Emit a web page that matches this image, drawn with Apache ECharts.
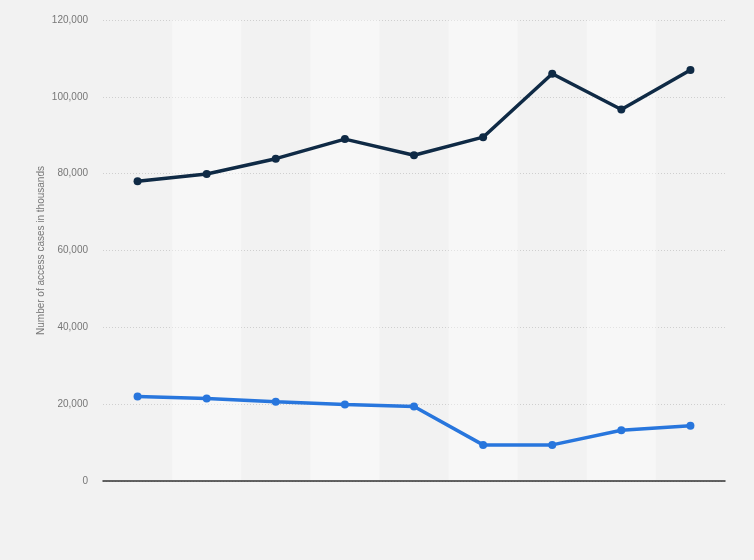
<!DOCTYPE html>
<html>
<head>
<meta charset="utf-8">
<script src="https://cdn.jsdelivr.net/npm/echarts@6/dist/echarts.min.js"></script>
<style>
html,body{margin:0;padding:0;background:#f2f2f2;}
#chart{width:754px;height:560px;}
</style>
</head>
<body>
<div id="chart"></div>
<script>
const categories = ['1','2','3','4','5','6','7','8','9'];
const seriesDark = [78000, 79900, 83900, 89000, 84800, 89500, 106000, 96700, 107000];
const seriesBlue = [22000, 21500, 20600, 19900, 19400, 9400, 9400, 13200, 14400];
const yTicks = {min: 0, max: 120000, interval: 20000};
const yAxisTitle = 'Number of access cases in thousands';

const chart = echarts.init(document.getElementById('chart'));
chart.setOption({
  backgroundColor: '#f2f2f2',
  animation: false,
  grid: {left: 103, right: 29, top: 20, bottom: 79},
  xAxis: {
    type: 'category',
    data: categories,
    boundaryGap: true,
    axisLine: {show: true, lineStyle: {color: '#333', width: 1.5}},
    axisTick: {show: false},
    axisLabel: {show: false},
    splitLine: {show: false},
    splitArea: {show: true, areaStyle: {color: ['rgba(255,255,255,0)', 'rgba(255,255,255,0.4)']}}
  },
  yAxis: {
    type: 'value',
    min: yTicks.min, max: yTicks.max, interval: yTicks.interval,
    name: yAxisTitle,
    nameLocation: 'middle',
    nameGap: 57,
    nameMoveOverlap: false,
    nameTextStyle: {color: '#777', fontSize: 10, fontFamily: 'Arial, Liberation Sans, sans-serif'},
    axisLine: {show: false},
    axisTick: {show: false},
    axisLabel: {
      color: '#777', fontSize: 10, margin: 15,
      fontFamily: 'Arial, Liberation Sans, sans-serif',
      formatter: v => v.toLocaleString('en-US')
    },
    splitLine: {show: true, lineStyle: {color: '#cfcfcf', type: [1, 2], width: 1}}
  },
  series: [
    {
      type: 'line', data: seriesDark,
      symbol: 'circle', symbolSize: 8,
      lineStyle: {color: '#0f2a45', width: 3.5},
      itemStyle: {color: '#0f2a45'}
    },
    {
      type: 'line', data: seriesBlue,
      symbol: 'circle', symbolSize: 8,
      lineStyle: {color: '#2876dd', width: 3.5},
      itemStyle: {color: '#2876dd'}
    }
  ]
});
</script>
</body>
</html>
